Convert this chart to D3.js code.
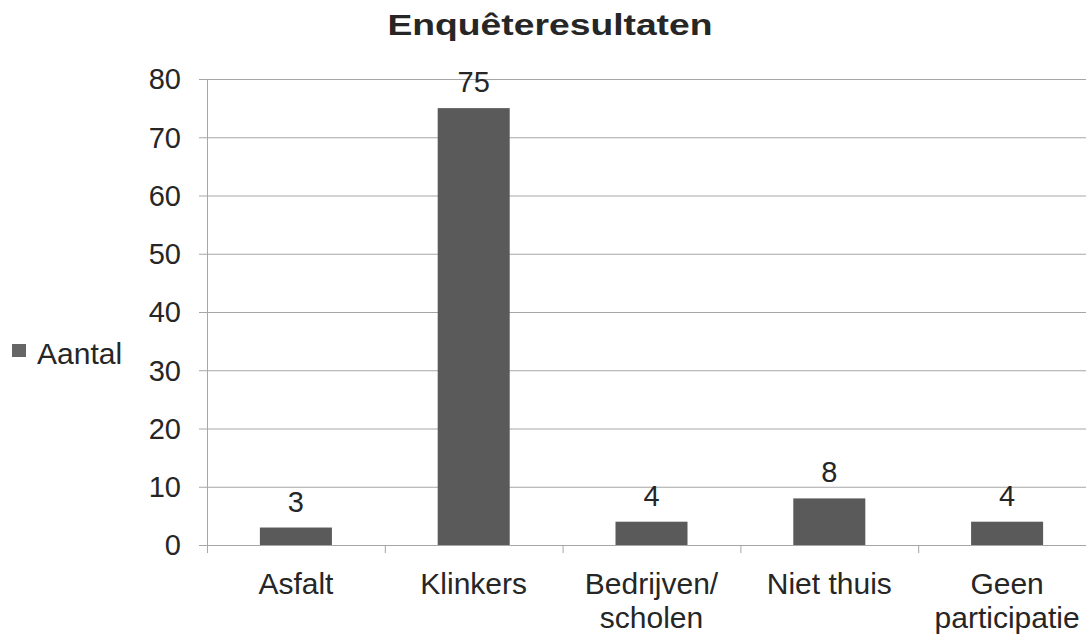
<!DOCTYPE html>
<html>
<head>
<meta charset="utf-8">
<script src="https://cdn.jsdelivr.net/npm/d3@7"></script>
<style>
  body { margin: 0; background: #fff; }
  text { font-family: "Liberation Sans", Arial, sans-serif; fill: #262626; }
</style>
</head>
<body>
<script>
const categories = [["Asfalt"], ["Klinkers"], ["Bedrijven/", "scholen"], ["Niet thuis"], ["Geen", "participatie"]];
const values = [3, 75, 4, 8, 4];
const yTicks = [0, 10, 20, 30, 40, 50, 60, 70, 80];
const seriesName = "Aantal";
const title = "Enquêteresultaten";

const w = 1086, h = 635;
const plotLeft = 207, plotRight = 1096, plotTop = 79, plotBottom = 545;

const svg = d3.select("body").append("svg")
  .attr("width", w).attr("height", h);

const xScale = d3.scaleBand()
  .domain(categories.map((d, i) => i))
  .range([plotLeft, plotRight])
  .paddingInner(0.595).paddingOuter(0.2975);

const yScale = d3.scaleLinear().domain([0, 80]).range([plotBottom, plotTop]);

// gridlines
svg.append("g").selectAll("line")
  .data(yTicks).enter().append("line")
  .attr("x1", plotLeft - 8).attr("x2", plotRight)
  .attr("y1", d => yScale(d) + 0.5).attr("y2", d => yScale(d) + 0.5)
  .attr("stroke", "#a6a6a6").attr("stroke-width", 1);

// y axis line
svg.append("line")
  .attr("x1", plotLeft + 0.5).attr("x2", plotLeft + 0.5)
  .attr("y1", plotTop).attr("y2", plotBottom)
  .attr("stroke", "#a6a6a6");

// y labels
svg.append("g").selectAll("text")
  .data(yTicks).enter().append("text")
  .attr("x", 181).attr("y", d => yScale(d))
  .attr("dy", "0.36em")
  .attr("text-anchor", "end")
  .style("font-size", "29px")
  .text(d => d);

// category ticks
const step = xScale.step();
svg.append("g").selectAll("line")
  .data(d3.range(categories.length + 1)).enter().append("line")
  .attr("x1", i => plotLeft + i * step + 0.5).attr("x2", i => plotLeft + i * step + 0.5)
  .attr("y1", plotBottom).attr("y2", plotBottom + 8)
  .attr("stroke", "#a6a6a6");

// bars
svg.selectAll("rect.bar")
  .data(values).enter().append("rect")
  .attr("class", "bar")
  .attr("x", (d, i) => xScale(i))
  .attr("y", d => yScale(d))
  .attr("width", xScale.bandwidth())
  .attr("height", d => plotBottom - yScale(d))
  .attr("fill", "#5a5a5a");

// value labels
svg.selectAll("text.val")
  .data(values).enter().append("text")
  .attr("class", "val")
  .attr("x", (d, i) => xScale(i) + xScale.bandwidth() / 2)
  .attr("y", d => yScale(d) - 16)
  .attr("text-anchor", "middle")
  .style("font-size", "29px")
  .text(d => d);

// category labels
const catG = svg.append("g").selectAll("text")
  .data(categories).enter().append("text")
  .attr("text-anchor", "middle")
  .attr("x", (d, i) => xScale(i) + xScale.bandwidth() / 2)
  .attr("y", 594)
  .style("font-size", "30px");
catG.selectAll("tspan")
  .data(d => d).enter().append("tspan")
  .attr("x", function () { return this.parentNode.getAttribute("x"); })
  .attr("dy", (d, j) => j === 0 ? 0 : 34)
  .text(d => d);

// title
svg.append("text")
  .attr("x", 550).attr("y", 35)
  .attr("text-anchor", "middle")
  .attr("textLength", 325).attr("lengthAdjust", "spacingAndGlyphs")
  .style("font-size", "30px").style("font-weight", "bold")
  .text(title);

// legend
svg.append("rect")
  .attr("x", 12).attr("y", 344).attr("width", 14).attr("height", 13)
  .attr("fill", "#666");
svg.append("text")
  .attr("x", 37).attr("y", 364)
  .style("font-size", "30px")
  .text(seriesName);
</script>
</body>
</html>
